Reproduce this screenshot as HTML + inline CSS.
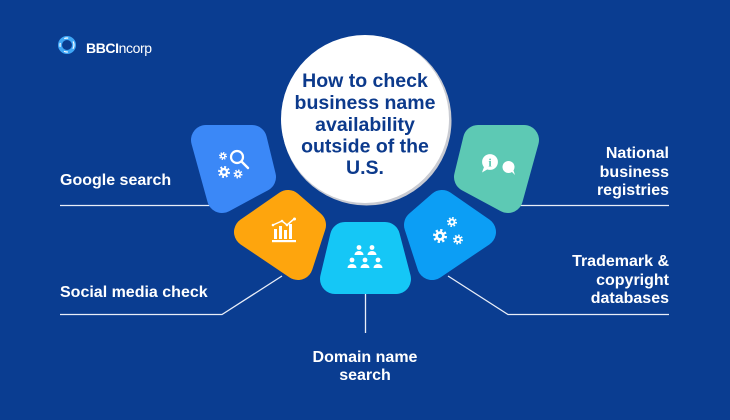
<!DOCTYPE html>
<html><head><meta charset="utf-8"><style>
html,body{margin:0;padding:0;background:#0a3d91;}
svg{display:block;}
.lab{font-family:"Liberation Sans",sans-serif;font-weight:bold;font-size:16px;fill:#fff;}
.ttl{font-family:"Liberation Sans",sans-serif;font-weight:bold;font-size:19.5px;fill:#0c3a8c;}
</style></head><body>
<svg width="730" height="420" viewBox="0 0 730 420" xmlns="http://www.w3.org/2000/svg">
<rect width="730" height="420" fill="#0a3d91"/>

<!-- logo -->
<circle cx="67" cy="45" r="7" fill="none" stroke="#3fa6f6" stroke-width="4"/>
<circle cx="67" cy="45" r="7" fill="none" stroke="#ffffff" stroke-width="1.2" stroke-dasharray="4 6"/>
<circle cx="67" cy="45" r="3.4" fill="#0a3d91"/>
<text x="86" y="53" font-family="Liberation Sans, sans-serif" font-size="14" fill="#fff" letter-spacing="-0.4"><tspan font-weight="bold">BBCI</tspan>ncorp</text>

<!-- connector lines -->
<g stroke="#e9eef8" stroke-width="1.3" fill="none">
<path d="M60 205.5 H214"/>
<path d="M60 314.5 H222 L282 276"/>
<path d="M365.5 294 V333"/>
<path d="M448 276 L508 314.5 H669"/>
<path d="M516 205.5 H669"/>
</g>

<!-- shapes -->
<g stroke-linejoin="round" stroke-width="30">
<polygon points="206,140 252,140 261,177 222,198" fill="#3b88f7" stroke="#3b88f7"/>
<polygon points="288,205 311,225 298,265 249,232" fill="#fea50d" stroke="#fea50d"/>
<polygon points="345,237 385,237 396,279 335,279" fill="#15c7f6" stroke="#15c7f6"/>
<polygon points="442,205 481,232 432,265 419,225" fill="#0c9ef5" stroke="#0c9ef5"/>
<polygon points="524,140 478,140 469,177 508,198" fill="#5dc9b4" stroke="#5dc9b4"/>
</g>

<!-- circle -->
<circle cx="366.5" cy="120.5" r="85" fill="#c9cbd2"/>
<circle cx="365" cy="119" r="84" fill="#ffffff"/>
<g class="ttl" text-anchor="middle">
<text x="365" y="87">How to check</text>
<text x="365" y="109">business name</text>
<text x="365" y="131">availability</text>
<text x="365" y="152.5">outside of the</text>
<text x="365" y="174">U.S.</text>
</g>

<!-- Google icon -->
<g fill="#fff">
 <g transform="translate(223,156) scale(4)">
  <circle r="0.82" fill="none" stroke="#fff" stroke-width="0.36" stroke-dasharray="0.32 0.324"/>
  <circle r="0.68"/><circle r="0.3" fill="#3b88f7"/>
 </g>
 <g transform="translate(224,172) scale(6)">
  <circle r="0.82" fill="none" stroke="#fff" stroke-width="0.36" stroke-dasharray="0.32 0.324"/>
  <circle r="0.68"/><circle r="0.3" fill="#3b88f7"/>
 </g>
 <g transform="translate(238,174) scale(4.5)">
  <circle r="0.82" fill="none" stroke="#fff" stroke-width="0.36" stroke-dasharray="0.32 0.324"/>
  <circle r="0.68"/><circle r="0.3" fill="#3b88f7"/>
 </g>
</g>
<circle cx="237" cy="157" r="6" fill="none" stroke="#fff" stroke-width="2.2"/>
<path d="M241.5 161.5 L248 168" stroke="#fff" stroke-width="2.4" stroke-linecap="round"/>

<!-- chart icon -->
<g fill="#fff">
<rect x="274" y="229" width="3" height="10"/>
<rect x="279" y="226" width="3" height="13"/>
<rect x="284" y="230" width="3" height="9"/>
<rect x="289" y="224" width="3" height="15"/>
<rect x="272" y="240" width="24" height="2.2"/>
</g>
<path d="M273 225 L282 221 L287 225 L294 219" stroke="#fff" stroke-width="1.5" fill="none"/>
<g fill="#fff"><circle cx="273" cy="225" r="1.3"/><circle cx="282" cy="221" r="1.3"/><circle cx="287" cy="225" r="1.3"/><circle cx="294.5" cy="219" r="1.5"/></g>

<!-- people icon -->
<g fill="#fff">
<circle cx="359" cy="247.5" r="2.4"/><path d="M354.5 255 a4.5 4 0 0 1 9 0 z"/>
<circle cx="372" cy="247.5" r="2.4"/><path d="M367.5 255 a4.5 4 0 0 1 9 0 z"/>
<circle cx="352" cy="260" r="2.4"/><path d="M347.5 268 a4.5 4 0 0 1 9 0 z"/>
<circle cx="365" cy="260" r="2.4"/><path d="M360.5 268 a4.5 4 0 0 1 9 0 z"/>
<circle cx="378" cy="260" r="2.4"/><path d="M373.5 268 a4.5 4 0 0 1 9 0 z"/>
</g>

<!-- trademark gears -->
<g fill="#fff">
 <g transform="translate(440,236) scale(7)">
  <circle r="0.82" fill="none" stroke="#fff" stroke-width="0.36" stroke-dasharray="0.32 0.324"/>
  <circle r="0.68"/><circle r="0.3" fill="#0c9ef5"/>
 </g>
 <g transform="translate(452,222) scale(5)">
  <circle r="0.82" fill="none" stroke="#fff" stroke-width="0.36" stroke-dasharray="0.32 0.324"/>
  <circle r="0.68"/><circle r="0.3" fill="#0c9ef5"/>
 </g>
 <g transform="translate(458,239.5) scale(5)">
  <circle r="0.82" fill="none" stroke="#fff" stroke-width="0.36" stroke-dasharray="0.32 0.324"/>
  <circle r="0.68"/><circle r="0.3" fill="#0c9ef5"/>
 </g>
</g>

<!-- chat icon -->
<g fill="#fff">
<circle cx="508.5" cy="167" r="6"/>
<path d="M511 171 L515 175 L513 169 z"/>
<circle cx="490" cy="162" r="8.5" stroke="#5dc9b4" stroke-width="1.2"/>
<path d="M484 167 L482 172.5 L488 169 z"/>
</g>
<text x="490" y="166.5" text-anchor="middle" font-family="Liberation Serif, serif" font-weight="bold" font-size="12" fill="#5dc9b4">i</text>

<!-- labels -->
<text class="lab" x="60" y="185">Google search</text>
<text class="lab" x="60" y="297">Social media check</text>
<g class="lab" text-anchor="middle">
<text x="365" y="362">Domain name</text>
<text x="365" y="380">search</text>
</g>
<g class="lab" text-anchor="end">
<text x="669" y="158">National</text>
<text x="669" y="177">business</text>
<text x="669" y="195">registries</text>
<text x="669" y="266">Trademark &amp;</text>
<text x="669" y="285">copyright</text>
<text x="669" y="303">databases</text>
</g>
</svg>
</body></html>
